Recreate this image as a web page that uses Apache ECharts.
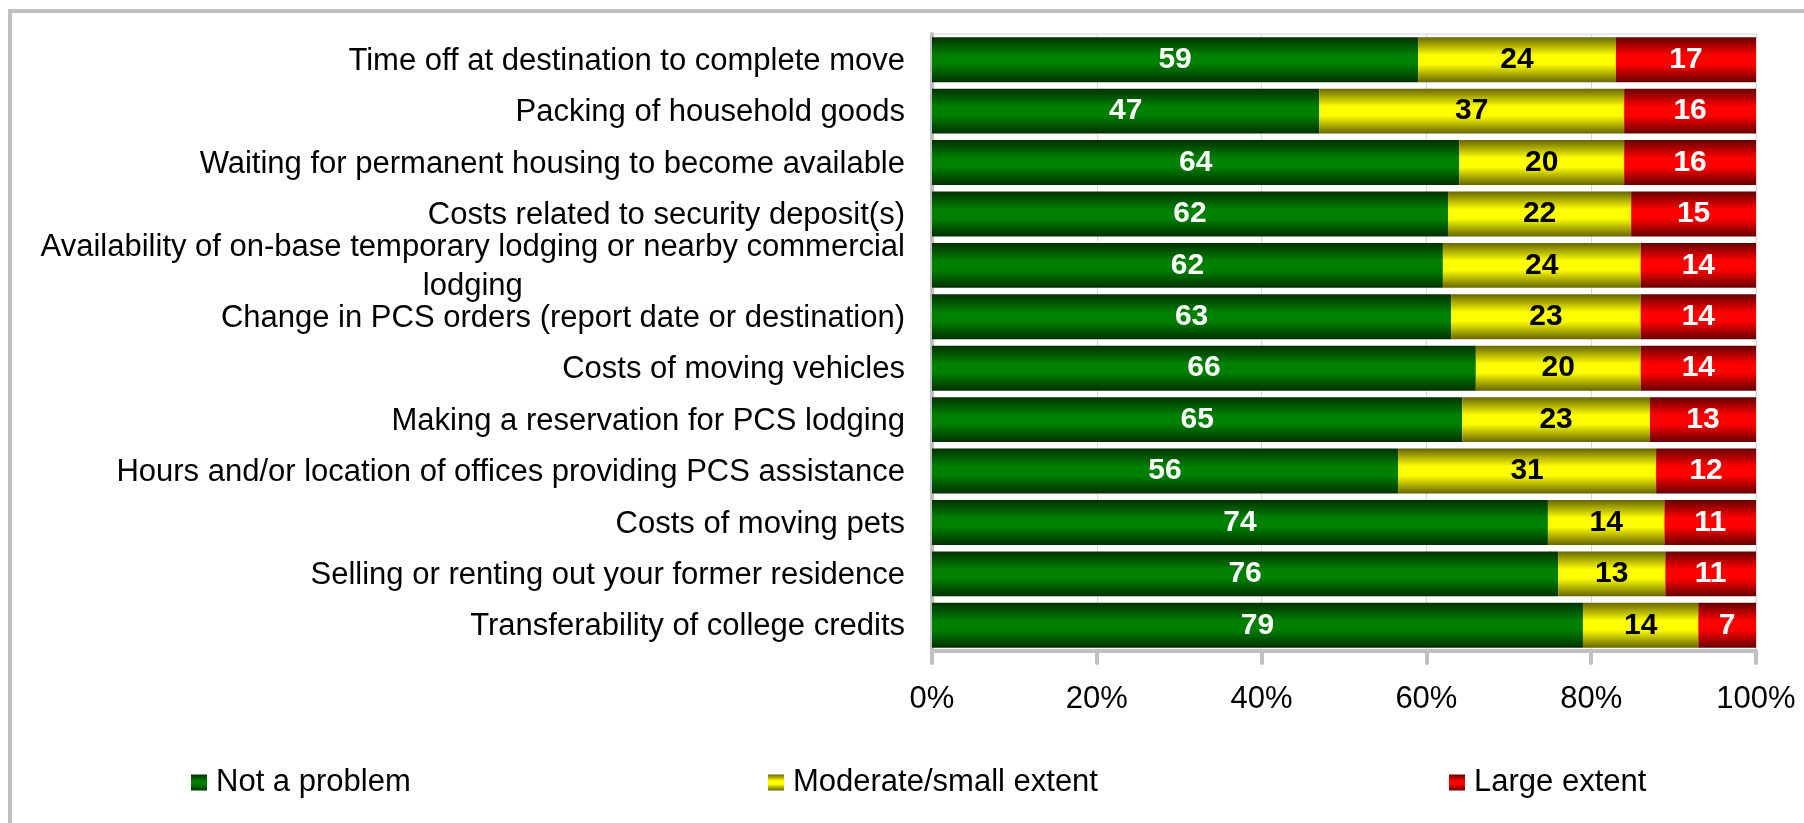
<!DOCTYPE html>
<html>
<head>
<meta charset="utf-8">
<script src="https://cdn.jsdelivr.net/npm/echarts@6/dist/echarts.min.js"></script>
<style>
  html, body { margin: 0; padding: 0; background: #fff; }
  #chart { width: 1804px; height: 823px; }
</style>
</head>
<body>
<div id="chart"></div>
<script>
// survey items, top to bottom
const categories = [
  "Time off at destination to complete move",
  "Packing of household goods",
  "Waiting for permanent housing to become available",
  "Costs related to security deposit(s)",
  "Availability of on-base temporary lodging or nearby commercial\nlodging",
  "Change in PCS orders (report date or destination)",
  "Costs of moving vehicles",
  "Making a reservation for PCS lodging",
  "Hours and/or location of offices providing PCS assistance",
  "Costs of moving pets",
  "Selling or renting out your former residence",
  "Transferability of college credits"
];
const notProblem = [59, 47, 64, 62, 62, 63, 66, 65, 56, 74, 76, 79];
const moderate = [24, 37, 20, 22, 24, 23, 20, 23, 31, 14, 13, 14];
const large = [17, 16, 16, 15, 14, 14, 14, 13, 12, 11, 11, 7];
const ticks = [0, 20, 40, 60, 80, 100];

const FONT = "'Liberation Sans', Arial, sans-serif";
const totals = categories.map((c, i) => notProblem[i] + moderate[i] + large[i]);

function grad(dark, bright) {
  return new echarts.graphic.LinearGradient(0, 0, 0, 1, [
    { offset: 0, color: dark },
    { offset: 0.4, color: bright },
    { offset: 0.6, color: bright },
    { offset: 1, color: dark }
  ]);
}

function makeSeries(name, vals, dark, bright, txt) {
  return {
    name: name,
    type: "bar",
    stack: "all",
    barCategoryGap: "12.5%",
    itemStyle: { color: grad(dark, bright) },
    label: {
      show: true,
      position: "inside",
      color: txt,
      fontFamily: FONT,
      fontWeight: "bold",
      fontSize: 30,
      formatter: p => vals[p.dataIndex]
    },
    // 100% stacked: each row is scaled to its total
    data: vals.map((v, i) => v / totals[i] * 100)
  };
}

const axisGray = { color: "#c0c0c0", width: 4, cap: "round" };

const chart = echarts.init(document.getElementById("chart"));
chart.setOption({
  animation: false,
  grid: {
    left: 932, right: 48, top: 34, bottom: 172,
    show: true, borderColor: "#d4d4d4", borderWidth: 1
  },
  legend: [
    { data: ["Not a problem"], left: 186 },
    { data: ["Moderate/small extent"], left: 763 },
    { data: ["Large extent"], left: 1444 }
  ].map(l => Object.assign(l, {
    top: 762, itemWidth: 16, itemHeight: 16, icon: "rect",
    textStyle: { fontFamily: FONT, fontSize: 31, color: "#000", padding: [0, 0, 0, 4] }
  })),
  xAxis: {
    type: "value",
    min: ticks[0], max: ticks[ticks.length - 1], interval: 20,
    axisLine: { show: true, lineStyle: axisGray },
    axisTick: { show: true, length: 12, lineStyle: axisGray },
    splitLine: { show: true, lineStyle: { color: "#d9d9d9", width: 1 } },
    axisLabel: { fontFamily: FONT, fontSize: 31, color: "#000", margin: 33, formatter: "{value}%" }
  },
  yAxis: {
    type: "category",
    inverse: true,
    data: categories,
    axisLine: { lineStyle: axisGray },
    axisTick: { length: 12, lineStyle: axisGray },
    axisLabel: {
      fontFamily: FONT, fontSize: 31, color: "#000", margin: 27, lineHeight: 39,
      padding: [3, 0, 0, 0],
      formatter: v => v.indexOf("\n") >= 0 ? v.split("\n").map(s => "{c|" + s + "}").join("\n") : v,
      rich: { c: { align: "center", fontFamily: FONT, fontSize: 31, lineHeight: 39, color: "#000" } }
    }
  },
  graphic: [
    { type: "line", shape: { x1: 8, y1: 11, x2: 1804, y2: 11 }, style: { stroke: "#c0c0c0", lineWidth: 4 } },
    { type: "line", shape: { x1: 10, y1: 9, x2: 10, y2: 823 }, style: { stroke: "#c0c0c0", lineWidth: 4 } }
  ],
  series: [
    makeSeries("Not a problem", notProblem, "#003000", "#008000", "#fff"),
    makeSeries("Moderate/small extent", moderate, "#666600", "#ffff00", "#000"),
    makeSeries("Large extent", large, "#660000", "#ff0000", "#fff")
  ]
});
</script>
</body>
</html>
